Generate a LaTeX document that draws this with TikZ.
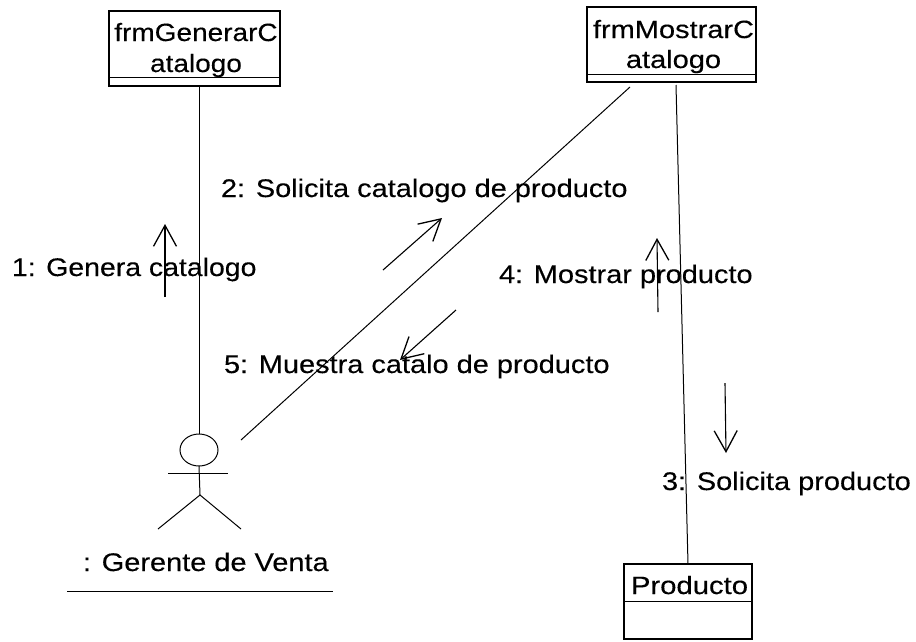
\documentclass[tikz,border=0pt]{standalone}
\usepackage{fontspec}
\setmainfont{Liberation Sans}
\newfontfamily\wideface[FakeStretch=1.135,FakeBold=0.25]{Liberation Sans}
\newfontfamily\oneface[FakeStretch=1.115,FakeBold=0.25]{Liberation Sans}
\newfontfamily\genface[FakeStretch=1.12,FakeBold=0.25]{Liberation Sans}
\newfontfamily\mosface[FakeStretch=1.16,FakeBold=0.25]{Liberation Sans}
\newfontfamily\proface[FakeStretch=1.17,FakeBold=0.25]{Liberation Sans}
\usetikzlibrary{arrows.meta,shapes.geometric}
\tikzset{
  x=1pt,y=-1pt,
  every node/.style={inner sep=0pt,outer sep=0pt},
  lbl/.style={anchor=base west,font=\wideface\fontsize{25.5}{31}\selectfont},
  lblone/.style={anchor=base west,font=\oneface\fontsize{25.5}{31}\selectfont},
  boxtxt/.style={anchor=base,align=center},
  gentxt/.style={boxtxt,font=\genface\fontsize{25}{31}\selectfont},
  mostxt/.style={boxtxt,font=\mosface\fontsize{25}{31}\selectfont},
  protxt/.style={boxtxt,font=\proface\fontsize{25}{31}\selectfont},
  clsbox/.style={draw=black,line width=1.2pt,minimum height=75pt},
  link/.style={line width=1pt,draw=black},
  msg/.style={line width=1.1pt,draw=black,-{Straight Barb[length=21pt,width=23pt,line width=1.3pt]}},
  stick/.style={line width=1pt,draw=black},
}
\begin{document}
\begin{tikzpicture}
\useasboundingbox (0,0) rectangle (916,641);
% class boxes
\node[clsbox,minimum width=171pt] (gen) at (194.5,48.5) {};
\node[clsbox,minimum width=169pt] (mos) at (671.5,44.5) {};
\node[clsbox,minimum width=128pt] (pro) at (688,601.5) {};
\draw[line width=1pt] (109,77) -- (280,77);
\draw[line width=1pt] (587,74) -- (756,74);
\draw[line width=1pt] (624,601) -- (752,601);
\node[gentxt] (gent1) at (196,41) {frmGenerarC};
\node[gentxt] (gent2) at (196,72) {atalogo};
\node[mostxt] (most1) at (673.5,38) {frmMostrarC};
\node[mostxt] (most2) at (673.5,68) {atalogo};
\node[protxt] (prot) at (689.5,594) {Producto};
% actor
\node[draw,ellipse,line width=1pt,minimum width=38pt,minimum height=32pt] (head) at (199,450) {};
\coordinate (hip) at (200,495);
\coordinate (armL) at (168,473);
\coordinate (armR) at (228,473);
\coordinate (legL) at (158,529);
\coordinate (legR) at (241,529);
\draw[stick] (head.south) -- (hip);
\draw[stick] (armL) -- (armR);
\draw[stick] (legL) -- (hip) -- (legR);
\node[lbl] (gv) at (83,571) {: Gerente de Venta};
\coordinate (ulL) at (67,591);
\coordinate (ulR) at (333,591);
\draw[line width=1pt] (ulL) -- (ulR);
% links
\coordinate (dA) at (630,87);
\coordinate (dB) at (241,440);
\coordinate (vA) at (676,85);
\draw[link] (gen.south -| head.north) -- (head.north);
\draw[link] (dA) -- (dB);
\draw[link] (vA) -- (pro.north);
% messages
\coordinate (m1a) at (165,297); \coordinate (m1b) at (165,224);
\coordinate (m2a) at (383,270); \coordinate (m2b) at (442,218);
\coordinate (m3a) at (725,383); \coordinate (m3b) at (726,453);
\coordinate (m4a) at (658,312); \coordinate (m4b) at (657,238);
\coordinate (m5a) at (456,310); \coordinate (m5b) at (400,360);
\draw[msg] (m1a) -- (m1b);
\draw[msg] (m2a) -- (m2b);
\draw[msg] (m3a) -- (m3b);
\draw[msg] (m4a) -- (m4b);
\draw[msg] (m5a) -- (m5b);
% labels
\node[lblone] (l1) at (12,276) {1: Genera catalogo};
\node[lbl] (l2) at (221,197) {2: Solicita catalogo de producto};
\node[lbl] (l3) at (662,490) {3: Solicita producto};
\node[lbl] (l4) at (499,283) {4: Mostrar producto};
\node[lbl] (l5) at (224,373) {5: Muestra catalo de producto};
\end{tikzpicture}
\end{document}
